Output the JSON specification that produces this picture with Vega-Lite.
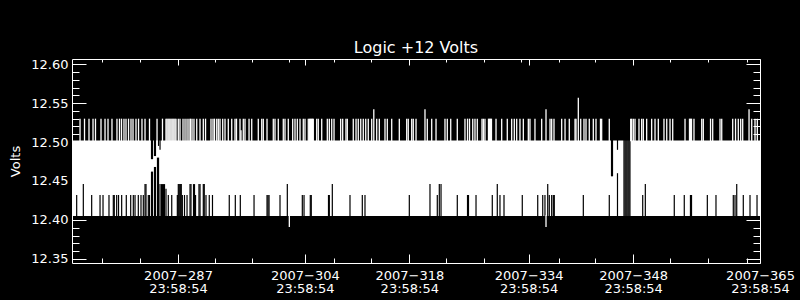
{
  "$schema": "https://vega.github.io/schema/vega-lite/v6.json",
  "width": 688,
  "height": 204,
  "autosize": {"type": "none"},
  "padding": {"left": 72, "top": 59, "right": 40, "bottom": 37},
  "background": "black",
  "title": {"text": "Logic +12 Volts", "color": "white", "font": "DejaVu Sans", "fontSize": 16, "fontWeight": "normal", "anchor": "middle", "frame": "group", "baseline": "alphabetic", "offset": 6, "dy": 17},
  "config": {
    "view": {"stroke": null},
    "axis": {"grid": false, "domainColor": "white", "tickColor": "white", "labelColor": "white", "titleColor": "white", "labelFont": "DejaVu Sans", "labelFontSize": 13, "titleFont": "DejaVu Sans", "titleFontWeight": "normal", "tickWidth": 1, "domainWidth": 1, "zindex": 1, "labelFlush": false, "labelOverlap": false, "labelBound": false}
  },
  "datasets": {
    "band": [{"t0": 273.793, "t1": 365.999, "lo": 12.405, "hi": 12.502}],
    "lowgaps": [
      {"t":274.42,"lo":12.404,"hi":12.432},{"t":275.31,"lo":12.404,"hi":12.446},{"t":276.43,"lo":12.404,"hi":12.432},{"t":277.55,"lo":12.404,"hi":12.432},{"t":277.95,"lo":12.404,"hi":12.432},{"t":278.75,"lo":12.404,"hi":12.432},{"t":279.33,"lo":12.404,"hi":12.432},{"t":279.46,"lo":12.404,"hi":12.432},{"t":279.78,"lo":12.404,"hi":12.432},{"t":280.03,"lo":12.404,"hi":12.432},{"t":280.45,"lo":12.404,"hi":12.432},{"t":281.07,"lo":12.404,"hi":12.432},{"t":281.66,"lo":12.404,"hi":12.432},{"t":282.01,"lo":12.404,"hi":12.432},{"t":282.24,"lo":12.404,"hi":12.432},{"t":282.68,"lo":12.404,"hi":12.432},{"t":283.04,"lo":12.404,"hi":12.432},{"t":283.35,"lo":12.404,"hi":12.432},{"t":283.58,"lo":12.404,"hi":12.446},{"t":283.71,"lo":12.404,"hi":12.446},{"t":284.02,"lo":12.404,"hi":12.432},{"t":284.18,"lo":12.404,"hi":12.432},
      {"t":286.70,"lo":12.404,"hi":12.432},{"t":287.16,"lo":12.404,"hi":12.432},{"t":287.91,"lo":12.404,"hi":12.432},{"t":288.04,"lo":12.404,"hi":12.446},{"t":288.17,"lo":12.404,"hi":12.446},{"t":288.31,"lo":12.404,"hi":12.446},{"t":288.44,"lo":12.404,"hi":12.446},{"t":288.58,"lo":12.404,"hi":12.432},{"t":288.87,"lo":12.404,"hi":12.432},{"t":289.21,"lo":12.404,"hi":12.432},{"t":289.61,"lo":12.404,"hi":12.446},{"t":289.74,"lo":12.404,"hi":12.446},{"t":290.08,"lo":12.404,"hi":12.446},{"t":290.21,"lo":12.404,"hi":12.446},{"t":290.35,"lo":12.404,"hi":12.432},{"t":290.81,"lo":12.404,"hi":12.446},{"t":290.95,"lo":12.404,"hi":12.446},{"t":291.39,"lo":12.404,"hi":12.446},{"t":291.52,"lo":12.404,"hi":12.446},{"t":291.75,"lo":12.404,"hi":12.432},{"t":292.19,"lo":12.404,"hi":12.432},{"t":292.62,"lo":12.404,"hi":12.432},
      {"t":294.87,"lo":12.404,"hi":12.432},{"t":295.68,"lo":12.404,"hi":12.432},{"t":296.35,"lo":12.404,"hi":12.432},{"t":298.19,"lo":12.404,"hi":12.432},{"t":299.93,"lo":12.404,"hi":12.432},{"t":300.06,"lo":12.404,"hi":12.432},{"t":300.20,"lo":12.404,"hi":12.432},{"t":301.67,"lo":12.404,"hi":12.432},{"t":302.65,"lo":12.404,"hi":12.446},{"t":304.66,"lo":12.404,"hi":12.432},{"t":304.89,"lo":12.404,"hi":12.432},{"t":305.73,"lo":12.404,"hi":12.432},{"t":305.86,"lo":12.404,"hi":12.432},{"t":308.17,"lo":12.404,"hi":12.432},{"t":308.28,"lo":12.404,"hi":12.432},{"t":308.68,"lo":12.404,"hi":12.446},{"t":311.05,"lo":12.404,"hi":12.432},{"t":312.70,"lo":12.404,"hi":12.432},{"t":313.06,"lo":12.404,"hi":12.432},
      {"t":319.00,"lo":12.404,"hi":12.432},{"t":321.77,"lo":12.404,"hi":12.446},{"t":322.75,"lo":12.404,"hi":12.432},{"t":323.02,"lo":12.404,"hi":12.446},{"t":323.25,"lo":12.404,"hi":12.446},{"t":325.43,"lo":12.404,"hi":12.432},{"t":326.80,"lo":12.404,"hi":12.432},{"t":326.93,"lo":12.404,"hi":12.432},{"t":327.94,"lo":12.404,"hi":12.432},{"t":330.12,"lo":12.404,"hi":12.432},{"t":330.79,"lo":12.404,"hi":12.446},{"t":331.15,"lo":12.404,"hi":12.432},{"t":331.69,"lo":12.404,"hi":12.432},{"t":334.14,"lo":12.404,"hi":12.432},{"t":336.21,"lo":12.404,"hi":12.432},{"t":336.88,"lo":12.404,"hi":12.432},{"t":337.18,"lo":12.404,"hi":12.432},{"t":337.55,"lo":12.404,"hi":12.446},{"t":337.76,"lo":12.404,"hi":12.432},{"t":338.08,"lo":12.404,"hi":12.432},{"t":338.30,"lo":12.404,"hi":12.432},{"t":338.43,"lo":12.404,"hi":12.432},
      {"t":342.32,"lo":12.404,"hi":12.432},{"t":345.80,"lo":12.404,"hi":12.432},{"t":350.28,"lo":12.404,"hi":12.432},{"t":350.63,"lo":12.404,"hi":12.446},{"t":354.51,"lo":12.404,"hi":12.432},{"t":355.85,"lo":12.404,"hi":12.432},{"t":356.68,"lo":12.404,"hi":12.432},{"t":356.82,"lo":12.404,"hi":12.432},{"t":358.94,"lo":12.404,"hi":12.432},{"t":360.10,"lo":12.404,"hi":12.432},{"t":362.42,"lo":12.404,"hi":12.432},{"t":362.65,"lo":12.404,"hi":12.432},{"t":362.88,"lo":12.404,"hi":12.446},{"t":363.76,"lo":12.404,"hi":12.432},{"t":364.66,"lo":12.404,"hi":12.432},{"t":365.60,"lo":12.404,"hi":12.432}
    ],
    "dropouts": [
      {"t":284.45,"lo":12.404,"hi":12.462},{"t":284.45,"lo":12.478,"hi":12.503},{"t":284.58,"lo":12.404,"hi":12.462},{"t":284.58,"lo":12.478,"hi":12.503},
      {"t":284.85,"lo":12.404,"hi":12.468},{"t":284.85,"lo":12.482,"hi":12.503},{"t":284.98,"lo":12.404,"hi":12.468},{"t":284.98,"lo":12.482,"hi":12.503},
      {"t":285.25,"lo":12.404,"hi":12.48},{"t":285.39,"lo":12.404,"hi":12.48},{"t":285.39,"lo":12.495,"hi":12.503},
      {"t":285.59,"lo":12.404,"hi":12.446},{"t":285.59,"lo":12.49,"hi":12.503},{"t":285.79,"lo":12.404,"hi":12.446},{"t":285.92,"lo":12.404,"hi":12.446},{"t":286.06,"lo":12.404,"hi":12.446},{"t":286.19,"lo":12.404,"hi":12.446},{"t":286.39,"lo":12.404,"hi":12.44},
      {"t":346.10,"lo":12.456,"hi":12.503},{"t":346.23,"lo":12.456,"hi":12.503},{"t":346.90,"lo":12.404,"hi":12.46},{"t":346.90,"lo":12.49,"hi":12.503},
      {"t":347.77,"lo":12.404,"hi":12.503},{"t":347.91,"lo":12.404,"hi":12.503},{"t":348.04,"lo":12.404,"hi":12.503},{"t":348.17,"lo":12.404,"hi":12.503},{"t":348.31,"lo":12.404,"hi":12.503},{"t":348.44,"lo":12.404,"hi":12.503},{"t":348.57,"lo":12.404,"hi":12.503}
    ],
    "spikes": [
      {"t":274.87,"lo":12.501,"hi":12.53},{"t":275.47,"lo":12.501,"hi":12.53},{"t":276.07,"lo":12.501,"hi":12.53},{"t":276.61,"lo":12.501,"hi":12.53},{"t":276.94,"lo":12.501,"hi":12.53},{"t":277.68,"lo":12.501,"hi":12.53},{"t":278.22,"lo":12.501,"hi":12.53},{"t":278.62,"lo":12.501,"hi":12.53},{"t":279.15,"lo":12.501,"hi":12.53},{"t":279.82,"lo":12.501,"hi":12.53},{"t":280.16,"lo":12.501,"hi":12.53},{"t":280.43,"lo":12.501,"hi":12.53},{"t":280.76,"lo":12.501,"hi":12.53},{"t":281.03,"lo":12.501,"hi":12.53},{"t":281.37,"lo":12.501,"hi":12.53},{"t":281.70,"lo":12.501,"hi":12.53},{"t":281.97,"lo":12.501,"hi":12.53},{"t":282.37,"lo":12.501,"hi":12.53},{"t":282.71,"lo":12.501,"hi":12.53},{"t":283.17,"lo":12.501,"hi":12.53},{"t":283.58,"lo":12.501,"hi":12.53},{"t":284.18,"lo":12.501,"hi":12.53},{"t":285.19,"lo":12.501,"hi":12.53},{"t":285.92,"lo":12.501,"hi":12.53},
      {"t":286.39,"lo":12.501,"hi":12.53},{"t":286.52,"lo":12.501,"hi":12.53},{"t":286.66,"lo":12.501,"hi":12.53},{"t":286.79,"lo":12.501,"hi":12.53},{"t":286.92,"lo":12.501,"hi":12.53},{"t":287.06,"lo":12.501,"hi":12.53},{"t":287.20,"lo":12.501,"hi":12.53},{"t":287.33,"lo":12.501,"hi":12.53},{"t":287.46,"lo":12.501,"hi":12.53},{"t":287.60,"lo":12.501,"hi":12.53},{"t":287.73,"lo":12.501,"hi":12.53},{"t":288.04,"lo":12.501,"hi":12.53},{"t":288.27,"lo":12.501,"hi":12.53},{"t":288.67,"lo":12.501,"hi":12.53},{"t":288.94,"lo":12.501,"hi":12.53},{"t":289.21,"lo":12.501,"hi":12.53},{"t":289.47,"lo":12.501,"hi":12.53},{"t":289.67,"lo":12.501,"hi":12.53},{"t":289.88,"lo":12.501,"hi":12.53},{"t":290.14,"lo":12.501,"hi":12.53},{"t":290.51,"lo":12.501,"hi":12.53},{"t":290.95,"lo":12.501,"hi":12.53},{"t":291.39,"lo":12.501,"hi":12.53},{"t":291.69,"lo":12.501,"hi":12.53},{"t":292.42,"lo":12.501,"hi":12.53},{"t":292.69,"lo":12.501,"hi":12.53},{"t":292.89,"lo":12.501,"hi":12.53},{"t":293.19,"lo":12.501,"hi":12.53},{"t":293.40,"lo":12.501,"hi":12.53},{"t":293.63,"lo":12.501,"hi":12.53},{"t":293.99,"lo":12.501,"hi":12.53},{"t":294.30,"lo":12.501,"hi":12.53},{"t":294.74,"lo":12.501,"hi":12.53},{"t":295.20,"lo":12.501,"hi":12.53},{"t":295.64,"lo":12.501,"hi":12.53},{"t":295.84,"lo":12.501,"hi":12.53},{"t":296.31,"lo":12.501,"hi":12.53},{"t":296.44,"lo":12.501,"hi":12.515},{"t":296.75,"lo":12.501,"hi":12.53},{"t":296.98,"lo":12.501,"hi":12.53},{"t":297.52,"lo":12.501,"hi":12.53},{"t":297.88,"lo":12.501,"hi":12.53},{"t":298.76,"lo":12.501,"hi":12.53},{"t":299.22,"lo":12.501,"hi":12.53},{"t":299.43,"lo":12.501,"hi":12.53},{"t":299.93,"lo":12.501,"hi":12.53},
      {"t":300.77,"lo":12.501,"hi":12.53},{"t":301.00,"lo":12.501,"hi":12.53},{"t":301.44,"lo":12.501,"hi":12.53},{"t":302.11,"lo":12.501,"hi":12.53},{"t":302.34,"lo":12.501,"hi":12.53},{"t":302.78,"lo":12.501,"hi":12.53},{"t":303.37,"lo":12.501,"hi":12.53},{"t":303.68,"lo":12.501,"hi":12.53},{"t":303.99,"lo":12.501,"hi":12.53},{"t":304.35,"lo":12.501,"hi":12.53},{"t":304.79,"lo":12.501,"hi":12.53},{"t":305.02,"lo":12.501,"hi":12.53},{"t":305.46,"lo":12.501,"hi":12.53},{"t":305.62,"lo":12.501,"hi":12.53},{"t":305.76,"lo":12.501,"hi":12.53},{"t":305.89,"lo":12.501,"hi":12.53},{"t":306.03,"lo":12.501,"hi":12.53},{"t":306.13,"lo":12.501,"hi":12.53},{"t":306.59,"lo":12.501,"hi":12.53},{"t":306.80,"lo":12.501,"hi":12.53},{"t":307.26,"lo":12.501,"hi":12.53},{"t":308.01,"lo":12.501,"hi":12.53},{"t":308.28,"lo":12.501,"hi":12.53},{"t":308.60,"lo":12.501,"hi":12.53},{"t":308.91,"lo":12.501,"hi":12.53},{"t":309.80,"lo":12.501,"hi":12.53},{"t":310.07,"lo":12.501,"hi":12.53},{"t":310.51,"lo":12.501,"hi":12.53},{"t":310.69,"lo":12.501,"hi":12.53},{"t":311.49,"lo":12.501,"hi":12.53},{"t":311.86,"lo":12.501,"hi":12.53},{"t":312.16,"lo":12.501,"hi":12.53},{"t":312.49,"lo":12.501,"hi":12.53},{"t":312.83,"lo":12.501,"hi":12.53},{"t":313.16,"lo":12.501,"hi":12.53},{"t":313.50,"lo":12.501,"hi":12.53},{"t":313.96,"lo":12.501,"hi":12.53},{"t":314.24,"lo":12.501,"hi":12.542},{"t":314.63,"lo":12.501,"hi":12.53},{"t":314.98,"lo":12.501,"hi":12.53},{"t":315.74,"lo":12.501,"hi":12.53},{"t":316.05,"lo":12.501,"hi":12.53},{"t":316.64,"lo":12.501,"hi":12.53},{"t":317.66,"lo":12.501,"hi":12.53},{"t":318.65,"lo":12.501,"hi":12.53},{"t":318.86,"lo":12.501,"hi":12.53},{"t":319.32,"lo":12.501,"hi":12.53},{"t":319.53,"lo":12.501,"hi":12.53},{"t":319.90,"lo":12.501,"hi":12.53},
      {"t":321.10,"lo":12.501,"hi":12.542},{"t":321.41,"lo":12.501,"hi":12.53},{"t":322.00,"lo":12.501,"hi":12.53},{"t":322.58,"lo":12.501,"hi":12.53},{"t":323.78,"lo":12.501,"hi":12.53},{"t":324.09,"lo":12.501,"hi":12.53},{"t":324.55,"lo":12.501,"hi":12.53},{"t":325.43,"lo":12.501,"hi":12.53},{"t":326.46,"lo":12.501,"hi":12.53},{"t":326.80,"lo":12.501,"hi":12.53},{"t":327.07,"lo":12.501,"hi":12.53},{"t":327.50,"lo":12.501,"hi":12.53},{"t":327.80,"lo":12.501,"hi":12.53},{"t":328.11,"lo":12.501,"hi":12.53},{"t":328.74,"lo":12.501,"hi":12.53},{"t":328.92,"lo":12.501,"hi":12.53},{"t":329.14,"lo":12.501,"hi":12.53},{"t":329.61,"lo":12.501,"hi":12.53},{"t":329.75,"lo":12.501,"hi":12.53},{"t":329.88,"lo":12.501,"hi":12.53},{"t":330.01,"lo":12.501,"hi":12.53},{"t":330.62,"lo":12.501,"hi":12.53},{"t":331.38,"lo":12.501,"hi":12.53},{"t":332.13,"lo":12.501,"hi":12.53},{"t":332.72,"lo":12.501,"hi":12.53},{"t":333.07,"lo":12.501,"hi":12.53},{"t":333.39,"lo":12.501,"hi":12.53},{"t":333.83,"lo":12.501,"hi":12.53},{"t":334.28,"lo":12.501,"hi":12.53},{"t":334.95,"lo":12.501,"hi":12.53},{"t":335.17,"lo":12.501,"hi":12.53},{"t":335.84,"lo":12.501,"hi":12.53},{"t":336.74,"lo":12.501,"hi":12.53},{"t":337.32,"lo":12.501,"hi":12.542},{"t":337.86,"lo":12.501,"hi":12.53},{"t":338.08,"lo":12.501,"hi":12.53},{"t":338.39,"lo":12.501,"hi":12.53},{"t":339.42,"lo":12.501,"hi":12.53},{"t":339.87,"lo":12.501,"hi":12.53},
      {"t":340.44,"lo":12.501,"hi":12.53},{"t":341.21,"lo":12.501,"hi":12.53},{"t":341.34,"lo":12.501,"hi":12.53},{"t":341.65,"lo":12.501,"hi":12.557},{"t":341.97,"lo":12.501,"hi":12.53},{"t":342.41,"lo":12.501,"hi":12.53},{"t":342.68,"lo":12.501,"hi":12.53},{"t":343.12,"lo":12.501,"hi":12.53},{"t":343.66,"lo":12.501,"hi":12.53},{"t":344.02,"lo":12.501,"hi":12.53},{"t":344.62,"lo":12.501,"hi":12.53},{"t":344.78,"lo":12.501,"hi":12.53},{"t":345.80,"lo":12.501,"hi":12.53},
      {"t":348.67,"lo":12.501,"hi":12.53},{"t":348.80,"lo":12.501,"hi":12.53},{"t":349.02,"lo":12.501,"hi":12.53},{"t":349.25,"lo":12.501,"hi":12.53},{"t":349.78,"lo":12.501,"hi":12.53},{"t":350.14,"lo":12.501,"hi":12.53},{"t":350.36,"lo":12.501,"hi":12.53},{"t":350.81,"lo":12.501,"hi":12.53},{"t":351.48,"lo":12.501,"hi":12.53},{"t":351.93,"lo":12.501,"hi":12.53},{"t":352.37,"lo":12.501,"hi":12.53},{"t":353.13,"lo":12.501,"hi":12.53},{"t":353.50,"lo":12.501,"hi":12.53},{"t":353.94,"lo":12.501,"hi":12.53},{"t":354.30,"lo":12.501,"hi":12.53},{"t":355.95,"lo":12.501,"hi":12.53},{"t":356.55,"lo":12.501,"hi":12.53},{"t":356.68,"lo":12.501,"hi":12.53},{"t":356.82,"lo":12.501,"hi":12.53},{"t":357.15,"lo":12.501,"hi":12.53},{"t":358.19,"lo":12.501,"hi":12.53},{"t":358.40,"lo":12.501,"hi":12.53},{"t":359.37,"lo":12.501,"hi":12.53},{"t":359.66,"lo":12.501,"hi":12.53},{"t":360.64,"lo":12.501,"hi":12.53},{"t":360.87,"lo":12.501,"hi":12.53},{"t":362.34,"lo":12.501,"hi":12.53},{"t":362.72,"lo":12.501,"hi":12.53},{"t":363.09,"lo":12.501,"hi":12.53},{"t":363.41,"lo":12.501,"hi":12.53},{"t":363.68,"lo":12.501,"hi":12.53},{"t":364.53,"lo":12.501,"hi":12.542},{"t":364.89,"lo":12.501,"hi":12.53},{"t":365.33,"lo":12.501,"hi":12.53},{"t":365.64,"lo":12.501,"hi":12.53},
      {"t":302.92,"lo":12.391,"hi":12.406},{"t":337.32,"lo":12.391,"hi":12.406}
    ]
  },
  "layer": [
    {
      "data": {"name": "band"},
      "mark": {"type": "rect", "color": "white"},
      "encoding": {
        "x": {"field": "t0", "type": "quantitative", "scale": {"domain": [273.793, 365.999], "nice": false, "zero": false},
          "axis": {"orient": "bottom", "values": [287.999, 304.999, 318.999, 334.999, 348.999, 365.999], "tickSize": -9, "labelPadding": 15, "labelExpr": "['2007\u2212' + floor(datum.value), '23:58:54']", "labelAlign": "center", "labelBaseline": "top", "labelLineHeight": 13.5, "title": null, "domain": true}},
        "x2": {"field": "t1"},
        "y": {"field": "lo", "type": "quantitative", "scale": {"domain": [12.3447, 12.6066], "nice": false, "zero": false},
          "axis": {"orient": "left", "values": [12.35, 12.4, 12.45, 12.5, 12.55, 12.6], "format": ".2f", "tickSize": -14, "labelPadding": 18, "title": "Volts", "titleFontSize": 13, "titleAngle": -90, "titleX": -57, "titleY": 102, "titleAlign": "center", "titleBaseline": "middle", "domain": true}},
        "y2": {"field": "hi"}
      }
    },
    {
      "data": {"name": "lowgaps"},
      "mark": {"type": "rule", "color": "black", "strokeWidth": 1.2},
      "encoding": {
        "x": {"field": "t", "type": "quantitative", "scale": {"domain": [273.793, 365.999], "nice": false, "zero": false},
          "axis": {"orient": "bottom", "values": [277.84, 282.93, 292.99, 297.89, 308.96, 313.92, 323.92, 329.0, 339.06, 343.95, 354.0, 359.03, 364.3], "tickSize": -5, "labels": false, "domain": false, "title": null}},
        "y": {"field": "lo", "type": "quantitative", "scale": {"domain": [12.3447, 12.6066], "nice": false, "zero": false},
          "axis": {"orient": "left", "values": [12.36, 12.37, 12.38, 12.39, 12.41, 12.42, 12.43, 12.44, 12.46, 12.47, 12.48, 12.49, 12.51, 12.52, 12.53, 12.54, 12.56, 12.57, 12.58, 12.59], "tickSize": -7, "labels": false, "domain": false, "title": null}},
        "y2": {"field": "hi"}
      }
    },
    {
      "data": {"name": "dropouts"},
      "mark": {"type": "rule", "color": "black", "strokeWidth": 1.2},
      "encoding": {
        "x": {"field": "t", "type": "quantitative", "scale": {"domain": [273.793, 365.999], "nice": false, "zero": false},
          "axis": {"orient": "top", "values": [287.999, 304.999, 318.999, 334.999, 348.999, 365.999], "tickSize": -6, "labels": false, "domain": true, "title": null}},
        "y": {"field": "lo", "type": "quantitative", "scale": {"domain": [12.3447, 12.6066], "nice": false, "zero": false},
          "axis": {"orient": "right", "values": [12.35, 12.4, 12.45, 12.5, 12.55, 12.6], "tickSize": -14, "labels": false, "domain": true, "title": null}},
        "y2": {"field": "hi"}
      }
    },
    {
      "data": {"name": "spikes"},
      "mark": {"type": "rule", "color": "white", "strokeWidth": 1.3},
      "encoding": {
        "x": {"field": "t", "type": "quantitative", "scale": {"domain": [273.793, 365.999], "nice": false, "zero": false},
          "axis": {"orient": "top", "values": [277.84, 282.93, 292.99, 297.89, 302.92, 308.96, 313.92, 323.92, 329.0, 333.97, 339.06, 343.95, 354.0, 359.03, 364.3], "tickSize": -3, "labels": false, "domain": false, "title": null}},
        "y": {"field": "lo", "type": "quantitative", "scale": {"domain": [12.3447, 12.6066], "nice": false, "zero": false},
          "axis": {"orient": "right", "values": [12.36, 12.37, 12.38, 12.39, 12.41, 12.42, 12.43, 12.44, 12.46, 12.47, 12.48, 12.49, 12.51, 12.52, 12.53, 12.54, 12.56, 12.57, 12.58, 12.59], "tickSize": -7, "labels": false, "domain": false, "title": null}},
        "y2": {"field": "hi"}
      }
    }
  ],
  "resolve": {"axis": {"x": "independent", "y": "independent"}}
}
